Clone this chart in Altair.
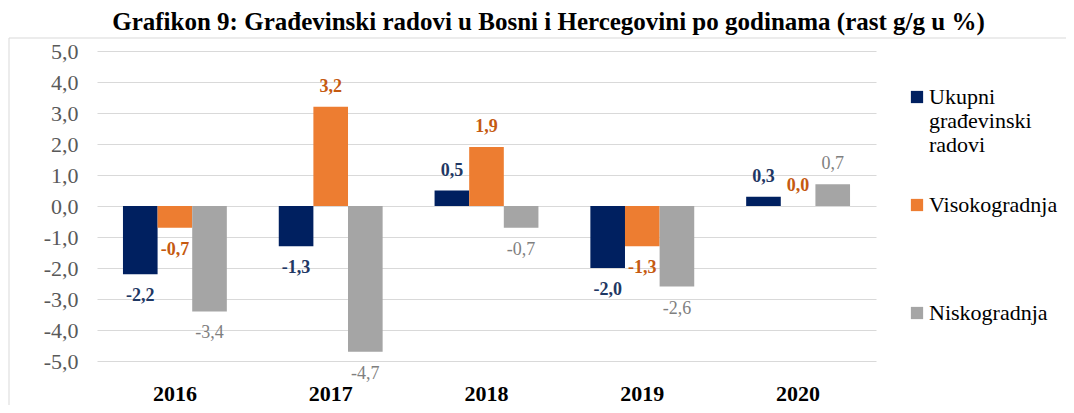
import altair as alt
import pandas as pd

years = ["2016", "2017", "2018", "2019", "2020"]
series = ["Ukupni građevinski radovi", "Visokogradnja", "Niskogradnja"]
ukupni = [-2.2, -1.3, 0.5, -2.0, 0.3]
visoko = [-0.7, 3.2, 1.9, -1.3, 0.0]
nisko = [-3.4, -4.7, -0.7, -2.6, 0.7]
bar_colors = ["#002060", "#ED7D31", "#A5A5A5"]
label_colors = ["#1F3864", "#C55A11", "#7F7F7F"]
y_ticks = [-5, -4, -3, -2, -1, 0, 1, 2, 3, 4, 5]
title_text = "Grafikon 9: Građevinski radovi u Bosni i Hercegovini po godinama (rast g/g u %)"

rows = []
for s, vals in zip(series, [ukupni, visoko, nisko]):
    for yr, v in zip(years, vals):
        rows.append({"year": yr, "series": s, "value": v})
df = pd.DataFrame(rows)

FONT = "Liberation Serif, Times New Roman, serif"

x_enc = alt.X(
    "year:N", sort=years,
    scale=alt.Scale(paddingInner=1 / 3, paddingOuter=1 / 6),
    axis=alt.Axis(title=None, labelAngle=0, labelFont=FONT, labelFontSize=22,
                  labelFontWeight="bold", labelColor="#000000", labelPadding=22,
                  domain=False, ticks=False, tickSize=0, grid=False),
)
xoff = alt.XOffset("series:N", sort=series,
                   scale=alt.Scale(domain=series, paddingInner=0, paddingOuter=0))
y_scale = alt.Scale(domain=[-5, 5], nice=False)
y_enc = alt.Y(
    "value:Q", scale=y_scale,
    axis=alt.Axis(title=None, values=y_ticks,
                  labelExpr="replace(replace(format(datum.value, '.1f'), '.', ','), '\u2212', '-')",
                  grid=True, gridColor="#D9D9D9", gridWidth=1.2, domain=False,
                  ticks=False, tickSize=0, labelFont=FONT, labelFontSize=22,
                  labelColor="#595959", labelPadding=19, labelOverlap=False),
)

legend_expr = ("datum.label == 'Ukupni građevinski radovi' ? "
               "['Ukupni', 'građevinski', 'radovi'] : [datum.label, '', '']")

bars = alt.Chart(df).mark_bar().encode(
    x=x_enc, xOffset=xoff, y=y_enc,
    color=alt.Color("series:N", sort=series,
                    scale=alt.Scale(domain=series, range=bar_colors),
                    legend=alt.Legend(title=None, orient="none", legendX=809, legendY=35,
                                      symbolType="square", symbolSize=150,
                                      symbolStrokeWidth=0, labelFont=FONT,
                                      labelFontSize=22, labelColor="#000000",
                                      labelOffset=1, rowPadding=38, labelLimit=300,
                                      labelExpr=legend_expr, padding=0)),
)

one = pd.DataFrame({"a": [0]})
frame_top = alt.Chart(one).mark_rule(stroke="#D9D9D9", strokeWidth=1).encode(
    x=alt.value(-88), x2=alt.value(1000), y=alt.value(-13))
frame_left = alt.Chart(one).mark_rule(stroke="#D9D9D9", strokeWidth=1).encode(
    x=alt.value(-88), y=alt.value(-13), y2=alt.value(500))


def label_layer(cond, dy, weight):
    return alt.Chart(df).transform_filter(cond).transform_calculate(
        lab="replace(replace(format(datum.value, '.1f'), '.', ','), '\u2212', '-')"
    ).mark_text(font=FONT, fontSize=18, fontWeight=weight, dy=dy, baseline="middle").encode(
        x=x_enc, xOffset=xoff, y=y_enc,
        text="lab:N",
        color=alt.Color("series:N", scale=alt.Scale(domain=series, range=label_colors),
                        legend=None),
    )


texts = [
    label_layer("datum.value >= 0 && datum.series != 'Niskogradnja'", -20, "bold"),
    label_layer("datum.value < 0 && datum.series != 'Niskogradnja'", 22, "bold"),
    label_layer("datum.value >= 0 && datum.series == 'Niskogradnja'", -20, "normal"),
    label_layer("datum.value < 0 && datum.series == 'Niskogradnja'", 22, "normal"),
]

chart = alt.layer(frame_top, frame_left, bars, *texts).resolve_scale(color="independent").properties(
    width=779, height=310,
    title=alt.Title(title_text, font=FONT, fontSize=25, fontWeight="bold",
                    color="#000000", anchor="middle", dx=62, offset=3),
    padding={"left": 89, "top": 43, "right": 190, "bottom": 44},
    autosize="none",
).configure(font=FONT).configure_view(stroke=None).configure_axis(
    labelFont=FONT
).configure_legend(labelFont=FONT)

chart.save("out.html", embed_options={"renderer": "svg", "actions": False})
